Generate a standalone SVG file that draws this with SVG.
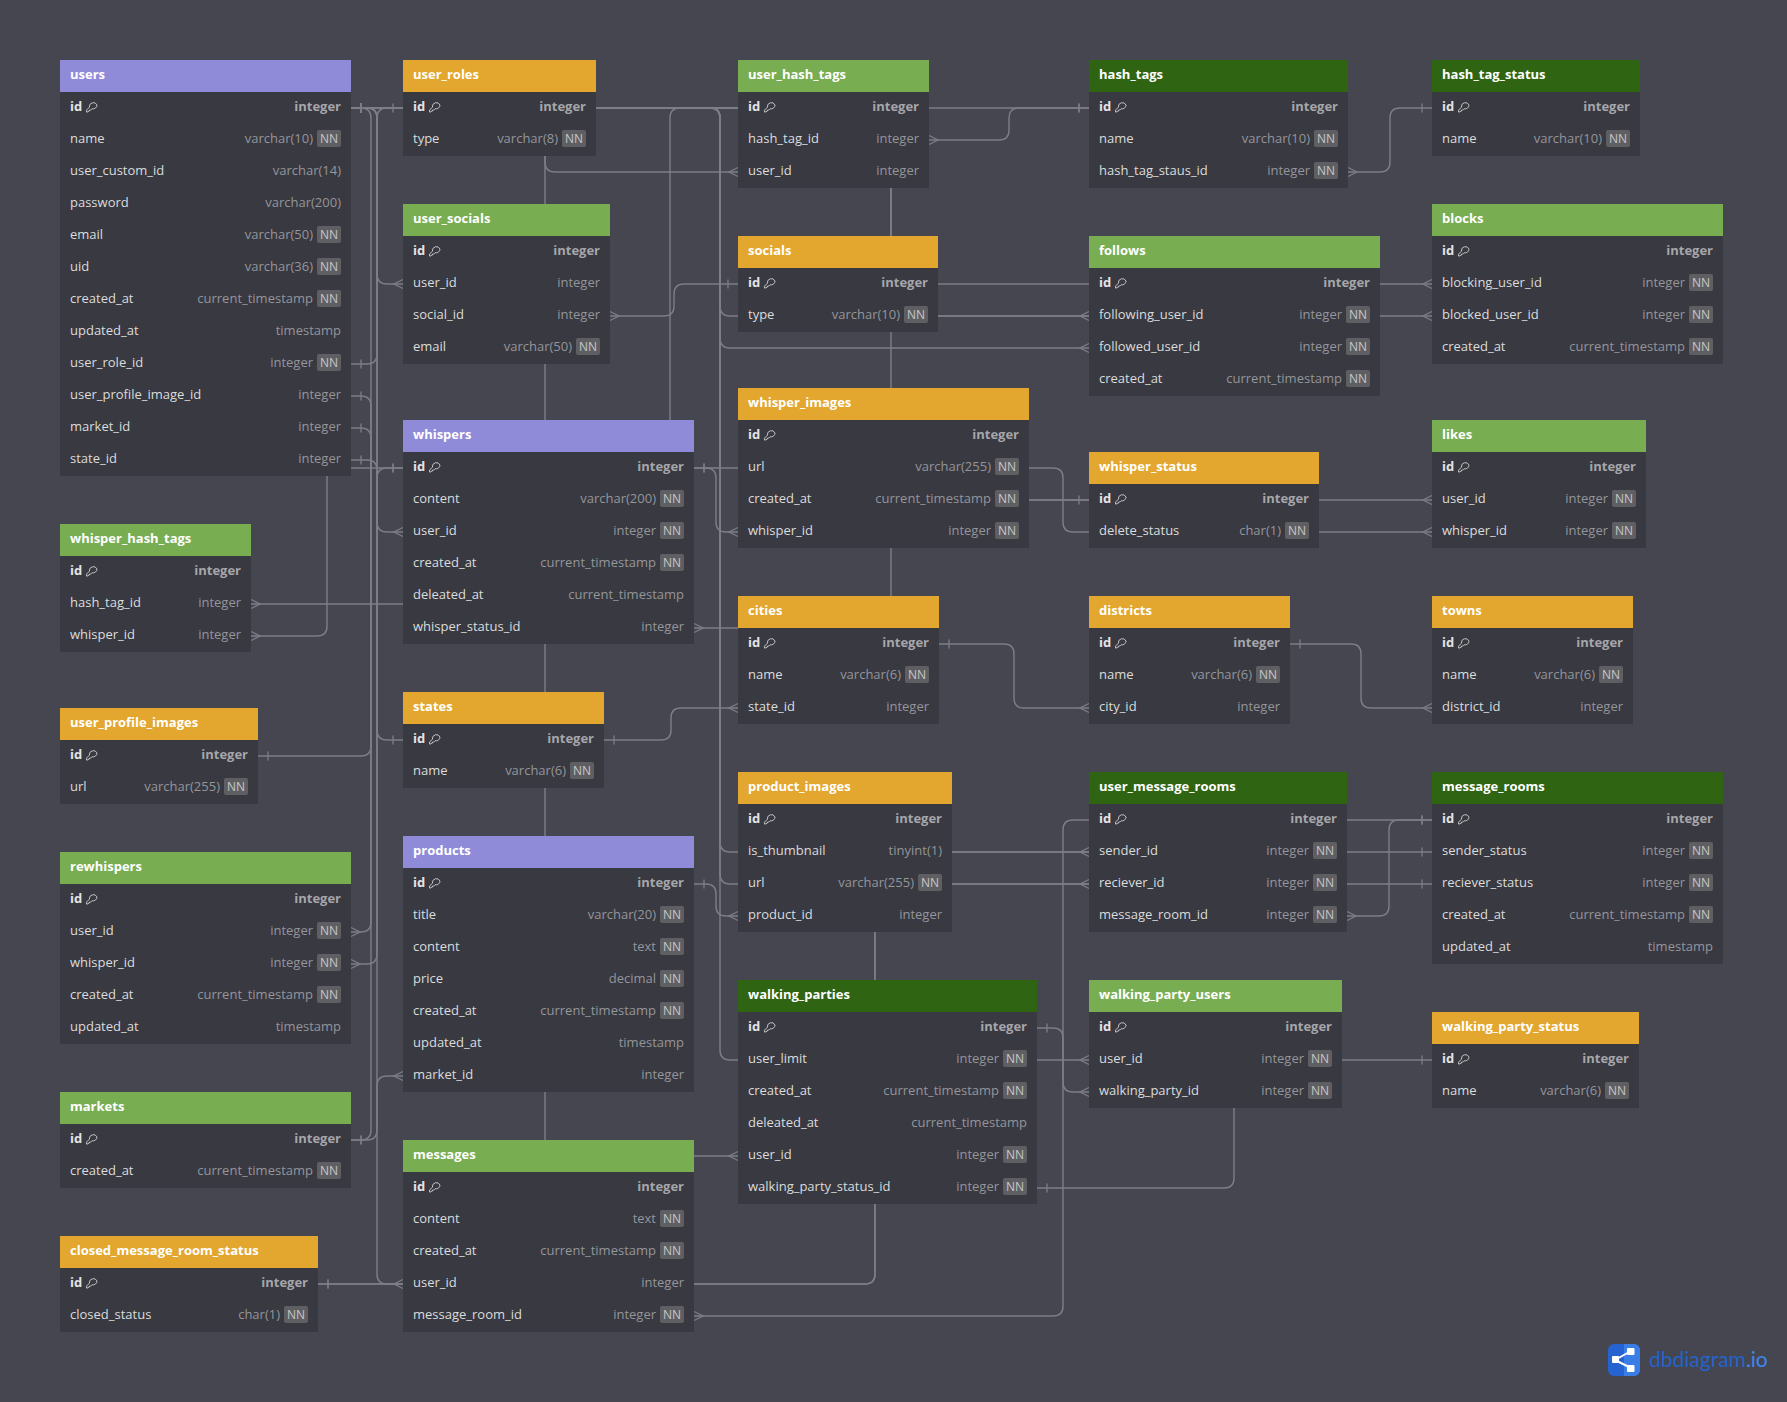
<svg xmlns="http://www.w3.org/2000/svg" width="1787" height="1402" viewBox="0 0 1787 1402">
<style>
text{font-family:"Open Sans","Noto Sans","Liberation Sans",sans-serif;font-size:13px}
.p{fill:#8f8bd8}.o{fill:#e3a72f}.g{fill:#78ad52}.d{fill:#2f6413}
.body{fill:#383941}
.h{fill:#fff;font-weight:700}
.n{fill:#dcdcdc}
.k{fill:#e4e4e4;font-weight:700}
.t{fill:#95959a;text-anchor:end}
.q{fill:#a6a6aa;font-weight:700;text-anchor:end}
.b{fill:#5f5f63}
.c{fill:#c6c6c6;font-size:12px;text-anchor:middle}
.key{fill:none;stroke:#d0d0d0;stroke-width:.9}
#connectors path{fill:none;stroke:#7d7e88;stroke-width:1.4}
.mk{fill:none;stroke:#7d7e88;stroke-width:1.3}
</style>
<defs>
<marker id="one" markerUnits="userSpaceOnUse" markerWidth="1" markerHeight="1" refX="0" refY="0" orient="auto-start-reverse" overflow="visible"><path class="mk" d="M-10 -4.500V4.500"/></marker>
<marker id="many" markerUnits="userSpaceOnUse" markerWidth="1" markerHeight="1" refX="0" refY="0" orient="auto-start-reverse" overflow="visible"><path class="mk" d="M0 -4.500L-9 0L0 4.500"/></marker>
<path id="key" d="M11 4a4 4 0 0 1-5 3.800L4.800 9H3.600V10H2.500L2 11H.5V9.200L3.400 6.200A4 4 0 0 1 11 4z"/>
</defs>
<rect width="1787" height="1402" fill="#45464f"/>
<g id="connectors">
<path marker-start="url(#one)" marker-end="url(#one)" d="M351 364H367Q377 364 377 354V118Q377 108 387 108H403"/>
<path marker-start="url(#one)" marker-end="url(#many)" d="M351 108H367Q377 108 377 118V274Q377 284 387 284H403"/>
<path marker-start="url(#one)" marker-end="url(#many)" d="M351 108H367Q377 108 377 118V522Q377 532 387 532H403"/>
<path marker-start="url(#one)" marker-end="url(#many)" d="M351 108H367Q377 108 377 118V1274Q377 1284 387 1284H403"/>
<path marker-start="url(#one)" marker-end="url(#many)" d="M351 108H361Q371 108 371 118V922Q371 932 361 932H351"/>
<path marker-start="url(#one)" marker-end="url(#many)" d="M351 108H535Q545 108 545 118V162Q545 172 555 172H738"/>
<path marker-start="url(#one)" marker-end="url(#many)" d="M351 108H535Q545 108 545 118V1146Q545 1156 555 1156H738"/>
<path marker-start="url(#one)" marker-end="url(#many)" d="M351 108H710Q720 108 720 118V306Q720 316 730 316H1089"/>
<path marker-start="url(#one)" marker-end="url(#many)" d="M351 108H710Q720 108 720 118V338Q720 348 730 348H1089"/>
<path marker-start="url(#one)" marker-end="url(#many)" d="M351 108H710Q720 108 720 118V842Q720 852 730 852H1089"/>
<path marker-start="url(#one)" marker-end="url(#many)" d="M351 108H710Q720 108 720 118V874Q720 884 730 884H1089"/>
<path marker-start="url(#one)" marker-end="url(#many)" d="M351 108H710Q720 108 720 118V1050Q720 1060 730 1060H1089"/>
<path marker-start="url(#one)" marker-end="url(#many)" d="M351 108H881Q891 108 891 118V274Q891 284 901 284H1432"/>
<path marker-start="url(#one)" marker-end="url(#many)" d="M351 108H881Q891 108 891 118V306Q891 316 901 316H1432"/>
<path marker-start="url(#one)" marker-end="url(#many)" d="M351 108H881Q891 108 891 118V490Q891 500 901 500H1432"/>
<path marker-start="url(#one)" marker-end="url(#one)" d="M351 460H367Q377 460 377 470V730Q377 740 387 740H403"/>
<path marker-start="url(#many)" marker-end="url(#one)" d="M351 964H367Q377 964 377 954V478Q377 468 387 468H403"/>
<path marker-start="url(#many)" marker-end="url(#one)" d="M251 636H317Q327 636 327 626V478Q327 468 337 468H403"/>
<path marker-start="url(#many)" marker-end="url(#one)" d="M251 604H660Q670 604 670 594V118Q670 108 680 108H1089"/>
<path marker-start="url(#many)" marker-end="url(#one)" d="M403 1076H387Q377 1076 377 1086V1130Q377 1140 367 1140H351"/>
<path marker-start="url(#one)" marker-end="url(#one)" d="M351 428H361Q371 428 371 438V1130Q371 1140 361 1140H351"/>
<path marker-start="url(#one)" marker-end="url(#one)" d="M351 396H361Q371 396 371 406V746Q371 756 361 756H258"/>
<path marker-start="url(#one)" marker-end="url(#one)" d="M318 1284H865Q875 1284 875 1274V862Q875 852 885 852H1432"/>
<path marker-start="url(#one)" marker-end="url(#one)" d="M318 1284H865Q875 1284 875 1274V894Q875 884 885 884H1432"/>
<path marker-start="url(#many)" marker-end="url(#one)" d="M694 628H881Q891 628 891 618V510Q891 500 901 500H1089"/>
<path marker-start="url(#one)" marker-end="url(#many)" d="M694 468H1053Q1063 468 1063 478V522Q1063 532 1073 532H1432"/>
<path marker-start="url(#one)" marker-end="url(#many)" d="M694 468H706Q716 468 716 478V522Q716 532 726 532H738"/>
<path marker-start="url(#many)" marker-end="url(#one)" d="M929 140H999Q1009 140 1009 130V118Q1009 108 1019 108H1089"/>
<path marker-start="url(#many)" marker-end="url(#one)" d="M1348 172H1380Q1390 172 1390 162V118Q1390 108 1400 108H1432"/>
<path marker-start="url(#many)" marker-end="url(#one)" d="M610 316H664Q674 316 674 306V294Q674 284 684 284H738"/>
<path marker-start="url(#one)" marker-end="url(#many)" d="M604 740H661Q671 740 671 730V718Q671 708 681 708H738"/>
<path marker-start="url(#one)" marker-end="url(#many)" d="M939 644H1004Q1014 644 1014 654V698Q1014 708 1024 708H1089"/>
<path marker-start="url(#one)" marker-end="url(#many)" d="M1290 644H1351Q1361 644 1361 654V698Q1361 708 1371 708H1432"/>
<path marker-start="url(#one)" marker-end="url(#many)" d="M694 884H706Q716 884 716 894V906Q716 916 726 916H738"/>
<path marker-start="url(#many)" marker-end="url(#one)" d="M694 1316H1053Q1063 1316 1063 1306V830Q1063 820 1073 820H1432"/>
<path marker-start="url(#many)" marker-end="url(#one)" d="M1347 916H1379Q1389 916 1389 906V830Q1389 820 1399 820H1432"/>
<path marker-start="url(#one)" marker-end="url(#many)" d="M1037 1028H1053Q1063 1028 1063 1038V1082Q1063 1092 1073 1092H1089"/>
<path marker-start="url(#one)" marker-end="url(#one)" d="M1037 1188H1224Q1234 1188 1234 1178V1070Q1234 1060 1244 1060H1432"/>
</g>
<g id="users" transform="translate(60,60)"><rect class="body" y="32" width="291" height="384"/><rect class="p" width="291" height="32"/><text class="h" x="10" y="19">users</text>
<text class="k" x="10" y="51">id</text><use href="#key" class="key" x="26" y="41"/><text class="q" x="281" y="51">integer</text>
<text class="n" x="10" y="83">name</text><text class="t" x="253" y="83">varchar(10)</text><rect class="b" x="257" y="70" width="24" height="17" rx="2"/><text class="c" x="269" y="82.500">NN</text>
<text class="n" x="10" y="115">user_custom_id</text><text class="t" x="281" y="115">varchar(14)</text>
<text class="n" x="10" y="147">password</text><text class="t" x="281" y="147">varchar(200)</text>
<text class="n" x="10" y="179">email</text><text class="t" x="253" y="179">varchar(50)</text><rect class="b" x="257" y="166" width="24" height="17" rx="2"/><text class="c" x="269" y="178.500">NN</text>
<text class="n" x="10" y="211">uid</text><text class="t" x="253" y="211">varchar(36)</text><rect class="b" x="257" y="198" width="24" height="17" rx="2"/><text class="c" x="269" y="210.500">NN</text>
<text class="n" x="10" y="243">created_at</text><text class="t" x="253" y="243">current_timestamp</text><rect class="b" x="257" y="230" width="24" height="17" rx="2"/><text class="c" x="269" y="242.500">NN</text>
<text class="n" x="10" y="275">updated_at</text><text class="t" x="281" y="275">timestamp</text>
<text class="n" x="10" y="307">user_role_id</text><text class="t" x="253" y="307">integer</text><rect class="b" x="257" y="294" width="24" height="17" rx="2"/><text class="c" x="269" y="306.500">NN</text>
<text class="n" x="10" y="339">user_profile_image_id</text><text class="t" x="281" y="339">integer</text>
<text class="n" x="10" y="371">market_id</text><text class="t" x="281" y="371">integer</text>
<text class="n" x="10" y="403">state_id</text><text class="t" x="281" y="403">integer</text></g>
<g id="user_roles" transform="translate(403,60)"><rect class="body" y="32" width="193" height="64"/><rect class="o" width="193" height="32"/><text class="h" x="10" y="19">user_roles</text>
<text class="k" x="10" y="51">id</text><use href="#key" class="key" x="26" y="41"/><text class="q" x="183" y="51">integer</text>
<text class="n" x="10" y="83">type</text><text class="t" x="155" y="83">varchar(8)</text><rect class="b" x="159" y="70" width="24" height="17" rx="2"/><text class="c" x="171" y="82.500">NN</text></g>
<g id="user_socials" transform="translate(403,204)"><rect class="body" y="32" width="207" height="128"/><rect class="g" width="207" height="32"/><text class="h" x="10" y="19">user_socials</text>
<text class="k" x="10" y="51">id</text><use href="#key" class="key" x="26" y="41"/><text class="q" x="197" y="51">integer</text>
<text class="n" x="10" y="83">user_id</text><text class="t" x="197" y="83">integer</text>
<text class="n" x="10" y="115">social_id</text><text class="t" x="197" y="115">integer</text>
<text class="n" x="10" y="147">email</text><text class="t" x="169" y="147">varchar(50)</text><rect class="b" x="173" y="134" width="24" height="17" rx="2"/><text class="c" x="185" y="146.500">NN</text></g>
<g id="user_hash_tags" transform="translate(738,60)"><rect class="body" y="32" width="191" height="96"/><rect class="g" width="191" height="32"/><text class="h" x="10" y="19">user_hash_tags</text>
<text class="k" x="10" y="51">id</text><use href="#key" class="key" x="26" y="41"/><text class="q" x="181" y="51">integer</text>
<text class="n" x="10" y="83">hash_tag_id</text><text class="t" x="181" y="83">integer</text>
<text class="n" x="10" y="115">user_id</text><text class="t" x="181" y="115">integer</text></g>
<g id="hash_tags" transform="translate(1089,60)"><rect class="body" y="32" width="259" height="96"/><rect class="d" width="259" height="32"/><text class="h" x="10" y="19">hash_tags</text>
<text class="k" x="10" y="51">id</text><use href="#key" class="key" x="26" y="41"/><text class="q" x="249" y="51">integer</text>
<text class="n" x="10" y="83">name</text><text class="t" x="221" y="83">varchar(10)</text><rect class="b" x="225" y="70" width="24" height="17" rx="2"/><text class="c" x="237" y="82.500">NN</text>
<text class="n" x="10" y="115">hash_tag_staus_id</text><text class="t" x="221" y="115">integer</text><rect class="b" x="225" y="102" width="24" height="17" rx="2"/><text class="c" x="237" y="114.500">NN</text></g>
<g id="hash_tag_status" transform="translate(1432,60)"><rect class="body" y="32" width="208" height="64"/><rect class="d" width="208" height="32"/><text class="h" x="10" y="19">hash_tag_status</text>
<text class="k" x="10" y="51">id</text><use href="#key" class="key" x="26" y="41"/><text class="q" x="198" y="51">integer</text>
<text class="n" x="10" y="83">name</text><text class="t" x="170" y="83">varchar(10)</text><rect class="b" x="174" y="70" width="24" height="17" rx="2"/><text class="c" x="186" y="82.500">NN</text></g>
<g id="socials" transform="translate(738,236)"><rect class="body" y="32" width="200" height="64"/><rect class="o" width="200" height="32"/><text class="h" x="10" y="19">socials</text>
<text class="k" x="10" y="51">id</text><use href="#key" class="key" x="26" y="41"/><text class="q" x="190" y="51">integer</text>
<text class="n" x="10" y="83">type</text><text class="t" x="162" y="83">varchar(10)</text><rect class="b" x="166" y="70" width="24" height="17" rx="2"/><text class="c" x="178" y="82.500">NN</text></g>
<g id="follows" transform="translate(1089,236)"><rect class="body" y="32" width="291" height="128"/><rect class="g" width="291" height="32"/><text class="h" x="10" y="19">follows</text>
<text class="k" x="10" y="51">id</text><use href="#key" class="key" x="26" y="41"/><text class="q" x="281" y="51">integer</text>
<text class="n" x="10" y="83">following_user_id</text><text class="t" x="253" y="83">integer</text><rect class="b" x="257" y="70" width="24" height="17" rx="2"/><text class="c" x="269" y="82.500">NN</text>
<text class="n" x="10" y="115">followed_user_id</text><text class="t" x="253" y="115">integer</text><rect class="b" x="257" y="102" width="24" height="17" rx="2"/><text class="c" x="269" y="114.500">NN</text>
<text class="n" x="10" y="147">created_at</text><text class="t" x="253" y="147">current_timestamp</text><rect class="b" x="257" y="134" width="24" height="17" rx="2"/><text class="c" x="269" y="146.500">NN</text></g>
<g id="blocks" transform="translate(1432,204)"><rect class="body" y="32" width="291" height="128"/><rect class="g" width="291" height="32"/><text class="h" x="10" y="19">blocks</text>
<text class="k" x="10" y="51">id</text><use href="#key" class="key" x="26" y="41"/><text class="q" x="281" y="51">integer</text>
<text class="n" x="10" y="83">blocking_user_id</text><text class="t" x="253" y="83">integer</text><rect class="b" x="257" y="70" width="24" height="17" rx="2"/><text class="c" x="269" y="82.500">NN</text>
<text class="n" x="10" y="115">blocked_user_id</text><text class="t" x="253" y="115">integer</text><rect class="b" x="257" y="102" width="24" height="17" rx="2"/><text class="c" x="269" y="114.500">NN</text>
<text class="n" x="10" y="147">created_at</text><text class="t" x="253" y="147">current_timestamp</text><rect class="b" x="257" y="134" width="24" height="17" rx="2"/><text class="c" x="269" y="146.500">NN</text></g>
<g id="whispers" transform="translate(403,420)"><rect class="body" y="32" width="291" height="192"/><rect class="p" width="291" height="32"/><text class="h" x="10" y="19">whispers</text>
<text class="k" x="10" y="51">id</text><use href="#key" class="key" x="26" y="41"/><text class="q" x="281" y="51">integer</text>
<text class="n" x="10" y="83">content</text><text class="t" x="253" y="83">varchar(200)</text><rect class="b" x="257" y="70" width="24" height="17" rx="2"/><text class="c" x="269" y="82.500">NN</text>
<text class="n" x="10" y="115">user_id</text><text class="t" x="253" y="115">integer</text><rect class="b" x="257" y="102" width="24" height="17" rx="2"/><text class="c" x="269" y="114.500">NN</text>
<text class="n" x="10" y="147">created_at</text><text class="t" x="253" y="147">current_timestamp</text><rect class="b" x="257" y="134" width="24" height="17" rx="2"/><text class="c" x="269" y="146.500">NN</text>
<text class="n" x="10" y="179">deleated_at</text><text class="t" x="281" y="179">current_timestamp</text>
<text class="n" x="10" y="211">whisper_status_id</text><text class="t" x="281" y="211">integer</text></g>
<g id="whisper_images" transform="translate(738,388)"><rect class="body" y="32" width="291" height="128"/><rect class="o" width="291" height="32"/><text class="h" x="10" y="19">whisper_images</text>
<text class="k" x="10" y="51">id</text><use href="#key" class="key" x="26" y="41"/><text class="q" x="281" y="51">integer</text>
<text class="n" x="10" y="83">url</text><text class="t" x="253" y="83">varchar(255)</text><rect class="b" x="257" y="70" width="24" height="17" rx="2"/><text class="c" x="269" y="82.500">NN</text>
<text class="n" x="10" y="115">created_at</text><text class="t" x="253" y="115">current_timestamp</text><rect class="b" x="257" y="102" width="24" height="17" rx="2"/><text class="c" x="269" y="114.500">NN</text>
<text class="n" x="10" y="147">whisper_id</text><text class="t" x="253" y="147">integer</text><rect class="b" x="257" y="134" width="24" height="17" rx="2"/><text class="c" x="269" y="146.500">NN</text></g>
<g id="whisper_status" transform="translate(1089,452)"><rect class="body" y="32" width="230" height="64"/><rect class="o" width="230" height="32"/><text class="h" x="10" y="19">whisper_status</text>
<text class="k" x="10" y="51">id</text><use href="#key" class="key" x="26" y="41"/><text class="q" x="220" y="51">integer</text>
<text class="n" x="10" y="83">delete_status</text><text class="t" x="192" y="83">char(1)</text><rect class="b" x="196" y="70" width="24" height="17" rx="2"/><text class="c" x="208" y="82.500">NN</text></g>
<g id="likes" transform="translate(1432,420)"><rect class="body" y="32" width="214" height="96"/><rect class="g" width="214" height="32"/><text class="h" x="10" y="19">likes</text>
<text class="k" x="10" y="51">id</text><use href="#key" class="key" x="26" y="41"/><text class="q" x="204" y="51">integer</text>
<text class="n" x="10" y="83">user_id</text><text class="t" x="176" y="83">integer</text><rect class="b" x="180" y="70" width="24" height="17" rx="2"/><text class="c" x="192" y="82.500">NN</text>
<text class="n" x="10" y="115">whisper_id</text><text class="t" x="176" y="115">integer</text><rect class="b" x="180" y="102" width="24" height="17" rx="2"/><text class="c" x="192" y="114.500">NN</text></g>
<g id="whisper_hash_tags" transform="translate(60,524)"><rect class="body" y="32" width="191" height="96"/><rect class="g" width="191" height="32"/><text class="h" x="10" y="19">whisper_hash_tags</text>
<text class="k" x="10" y="51">id</text><use href="#key" class="key" x="26" y="41"/><text class="q" x="181" y="51">integer</text>
<text class="n" x="10" y="83">hash_tag_id</text><text class="t" x="181" y="83">integer</text>
<text class="n" x="10" y="115">whisper_id</text><text class="t" x="181" y="115">integer</text></g>
<g id="cities" transform="translate(738,596)"><rect class="body" y="32" width="201" height="96"/><rect class="o" width="201" height="32"/><text class="h" x="10" y="19">cities</text>
<text class="k" x="10" y="51">id</text><use href="#key" class="key" x="26" y="41"/><text class="q" x="191" y="51">integer</text>
<text class="n" x="10" y="83">name</text><text class="t" x="163" y="83">varchar(6)</text><rect class="b" x="167" y="70" width="24" height="17" rx="2"/><text class="c" x="179" y="82.500">NN</text>
<text class="n" x="10" y="115">state_id</text><text class="t" x="191" y="115">integer</text></g>
<g id="districts" transform="translate(1089,596)"><rect class="body" y="32" width="201" height="96"/><rect class="o" width="201" height="32"/><text class="h" x="10" y="19">districts</text>
<text class="k" x="10" y="51">id</text><use href="#key" class="key" x="26" y="41"/><text class="q" x="191" y="51">integer</text>
<text class="n" x="10" y="83">name</text><text class="t" x="163" y="83">varchar(6)</text><rect class="b" x="167" y="70" width="24" height="17" rx="2"/><text class="c" x="179" y="82.500">NN</text>
<text class="n" x="10" y="115">city_id</text><text class="t" x="191" y="115">integer</text></g>
<g id="towns" transform="translate(1432,596)"><rect class="body" y="32" width="201" height="96"/><rect class="o" width="201" height="32"/><text class="h" x="10" y="19">towns</text>
<text class="k" x="10" y="51">id</text><use href="#key" class="key" x="26" y="41"/><text class="q" x="191" y="51">integer</text>
<text class="n" x="10" y="83">name</text><text class="t" x="163" y="83">varchar(6)</text><rect class="b" x="167" y="70" width="24" height="17" rx="2"/><text class="c" x="179" y="82.500">NN</text>
<text class="n" x="10" y="115">district_id</text><text class="t" x="191" y="115">integer</text></g>
<g id="states" transform="translate(403,692)"><rect class="body" y="32" width="201" height="64"/><rect class="o" width="201" height="32"/><text class="h" x="10" y="19">states</text>
<text class="k" x="10" y="51">id</text><use href="#key" class="key" x="26" y="41"/><text class="q" x="191" y="51">integer</text>
<text class="n" x="10" y="83">name</text><text class="t" x="163" y="83">varchar(6)</text><rect class="b" x="167" y="70" width="24" height="17" rx="2"/><text class="c" x="179" y="82.500">NN</text></g>
<g id="user_profile_images" transform="translate(60,708)"><rect class="body" y="32" width="198" height="64"/><rect class="o" width="198" height="32"/><text class="h" x="10" y="19">user_profile_images</text>
<text class="k" x="10" y="51">id</text><use href="#key" class="key" x="26" y="41"/><text class="q" x="188" y="51">integer</text>
<text class="n" x="10" y="83">url</text><text class="t" x="160" y="83">varchar(255)</text><rect class="b" x="164" y="70" width="24" height="17" rx="2"/><text class="c" x="176" y="82.500">NN</text></g>
<g id="product_images" transform="translate(738,772)"><rect class="body" y="32" width="214" height="128"/><rect class="o" width="214" height="32"/><text class="h" x="10" y="19">product_images</text>
<text class="k" x="10" y="51">id</text><use href="#key" class="key" x="26" y="41"/><text class="q" x="204" y="51">integer</text>
<text class="n" x="10" y="83">is_thumbnail</text><text class="t" x="204" y="83">tinyint(1)</text>
<text class="n" x="10" y="115">url</text><text class="t" x="176" y="115">varchar(255)</text><rect class="b" x="180" y="102" width="24" height="17" rx="2"/><text class="c" x="192" y="114.500">NN</text>
<text class="n" x="10" y="147">product_id</text><text class="t" x="204" y="147">integer</text></g>
<g id="user_message_rooms" transform="translate(1089,772)"><rect class="body" y="32" width="258" height="128"/><rect class="d" width="258" height="32"/><text class="h" x="10" y="19">user_message_rooms</text>
<text class="k" x="10" y="51">id</text><use href="#key" class="key" x="26" y="41"/><text class="q" x="248" y="51">integer</text>
<text class="n" x="10" y="83">sender_id</text><text class="t" x="220" y="83">integer</text><rect class="b" x="224" y="70" width="24" height="17" rx="2"/><text class="c" x="236" y="82.500">NN</text>
<text class="n" x="10" y="115">reciever_id</text><text class="t" x="220" y="115">integer</text><rect class="b" x="224" y="102" width="24" height="17" rx="2"/><text class="c" x="236" y="114.500">NN</text>
<text class="n" x="10" y="147">message_room_id</text><text class="t" x="220" y="147">integer</text><rect class="b" x="224" y="134" width="24" height="17" rx="2"/><text class="c" x="236" y="146.500">NN</text></g>
<g id="message_rooms" transform="translate(1432,772)"><rect class="body" y="32" width="291" height="160"/><rect class="d" width="291" height="32"/><text class="h" x="10" y="19">message_rooms</text>
<text class="k" x="10" y="51">id</text><use href="#key" class="key" x="26" y="41"/><text class="q" x="281" y="51">integer</text>
<text class="n" x="10" y="83">sender_status</text><text class="t" x="253" y="83">integer</text><rect class="b" x="257" y="70" width="24" height="17" rx="2"/><text class="c" x="269" y="82.500">NN</text>
<text class="n" x="10" y="115">reciever_status</text><text class="t" x="253" y="115">integer</text><rect class="b" x="257" y="102" width="24" height="17" rx="2"/><text class="c" x="269" y="114.500">NN</text>
<text class="n" x="10" y="147">created_at</text><text class="t" x="253" y="147">current_timestamp</text><rect class="b" x="257" y="134" width="24" height="17" rx="2"/><text class="c" x="269" y="146.500">NN</text>
<text class="n" x="10" y="179">updated_at</text><text class="t" x="281" y="179">timestamp</text></g>
<g id="products" transform="translate(403,836)"><rect class="body" y="32" width="291" height="224"/><rect class="p" width="291" height="32"/><text class="h" x="10" y="19">products</text>
<text class="k" x="10" y="51">id</text><use href="#key" class="key" x="26" y="41"/><text class="q" x="281" y="51">integer</text>
<text class="n" x="10" y="83">title</text><text class="t" x="253" y="83">varchar(20)</text><rect class="b" x="257" y="70" width="24" height="17" rx="2"/><text class="c" x="269" y="82.500">NN</text>
<text class="n" x="10" y="115">content</text><text class="t" x="253" y="115">text</text><rect class="b" x="257" y="102" width="24" height="17" rx="2"/><text class="c" x="269" y="114.500">NN</text>
<text class="n" x="10" y="147">price</text><text class="t" x="253" y="147">decimal</text><rect class="b" x="257" y="134" width="24" height="17" rx="2"/><text class="c" x="269" y="146.500">NN</text>
<text class="n" x="10" y="179">created_at</text><text class="t" x="253" y="179">current_timestamp</text><rect class="b" x="257" y="166" width="24" height="17" rx="2"/><text class="c" x="269" y="178.500">NN</text>
<text class="n" x="10" y="211">updated_at</text><text class="t" x="281" y="211">timestamp</text>
<text class="n" x="10" y="243">market_id</text><text class="t" x="281" y="243">integer</text></g>
<g id="rewhispers" transform="translate(60,852)"><rect class="body" y="32" width="291" height="160"/><rect class="g" width="291" height="32"/><text class="h" x="10" y="19">rewhispers</text>
<text class="k" x="10" y="51">id</text><use href="#key" class="key" x="26" y="41"/><text class="q" x="281" y="51">integer</text>
<text class="n" x="10" y="83">user_id</text><text class="t" x="253" y="83">integer</text><rect class="b" x="257" y="70" width="24" height="17" rx="2"/><text class="c" x="269" y="82.500">NN</text>
<text class="n" x="10" y="115">whisper_id</text><text class="t" x="253" y="115">integer</text><rect class="b" x="257" y="102" width="24" height="17" rx="2"/><text class="c" x="269" y="114.500">NN</text>
<text class="n" x="10" y="147">created_at</text><text class="t" x="253" y="147">current_timestamp</text><rect class="b" x="257" y="134" width="24" height="17" rx="2"/><text class="c" x="269" y="146.500">NN</text>
<text class="n" x="10" y="179">updated_at</text><text class="t" x="281" y="179">timestamp</text></g>
<g id="walking_parties" transform="translate(738,980)"><rect class="body" y="32" width="299" height="192"/><rect class="d" width="299" height="32"/><text class="h" x="10" y="19">walking_parties</text>
<text class="k" x="10" y="51">id</text><use href="#key" class="key" x="26" y="41"/><text class="q" x="289" y="51">integer</text>
<text class="n" x="10" y="83">user_limit</text><text class="t" x="261" y="83">integer</text><rect class="b" x="265" y="70" width="24" height="17" rx="2"/><text class="c" x="277" y="82.500">NN</text>
<text class="n" x="10" y="115">created_at</text><text class="t" x="261" y="115">current_timestamp</text><rect class="b" x="265" y="102" width="24" height="17" rx="2"/><text class="c" x="277" y="114.500">NN</text>
<text class="n" x="10" y="147">deleated_at</text><text class="t" x="289" y="147">current_timestamp</text>
<text class="n" x="10" y="179">user_id</text><text class="t" x="261" y="179">integer</text><rect class="b" x="265" y="166" width="24" height="17" rx="2"/><text class="c" x="277" y="178.500">NN</text>
<text class="n" x="10" y="211">walking_party_status_id</text><text class="t" x="261" y="211">integer</text><rect class="b" x="265" y="198" width="24" height="17" rx="2"/><text class="c" x="277" y="210.500">NN</text></g>
<g id="walking_party_users" transform="translate(1089,980)"><rect class="body" y="32" width="253" height="96"/><rect class="g" width="253" height="32"/><text class="h" x="10" y="19">walking_party_users</text>
<text class="k" x="10" y="51">id</text><use href="#key" class="key" x="26" y="41"/><text class="q" x="243" y="51">integer</text>
<text class="n" x="10" y="83">user_id</text><text class="t" x="215" y="83">integer</text><rect class="b" x="219" y="70" width="24" height="17" rx="2"/><text class="c" x="231" y="82.500">NN</text>
<text class="n" x="10" y="115">walking_party_id</text><text class="t" x="215" y="115">integer</text><rect class="b" x="219" y="102" width="24" height="17" rx="2"/><text class="c" x="231" y="114.500">NN</text></g>
<g id="walking_party_status" transform="translate(1432,1012)"><rect class="body" y="32" width="207" height="64"/><rect class="o" width="207" height="32"/><text class="h" x="10" y="19">walking_party_status</text>
<text class="k" x="10" y="51">id</text><use href="#key" class="key" x="26" y="41"/><text class="q" x="197" y="51">integer</text>
<text class="n" x="10" y="83">name</text><text class="t" x="169" y="83">varchar(6)</text><rect class="b" x="173" y="70" width="24" height="17" rx="2"/><text class="c" x="185" y="82.500">NN</text></g>
<g id="markets" transform="translate(60,1092)"><rect class="body" y="32" width="291" height="64"/><rect class="g" width="291" height="32"/><text class="h" x="10" y="19">markets</text>
<text class="k" x="10" y="51">id</text><use href="#key" class="key" x="26" y="41"/><text class="q" x="281" y="51">integer</text>
<text class="n" x="10" y="83">created_at</text><text class="t" x="253" y="83">current_timestamp</text><rect class="b" x="257" y="70" width="24" height="17" rx="2"/><text class="c" x="269" y="82.500">NN</text></g>
<g id="messages" transform="translate(403,1140)"><rect class="body" y="32" width="291" height="160"/><rect class="g" width="291" height="32"/><text class="h" x="10" y="19">messages</text>
<text class="k" x="10" y="51">id</text><use href="#key" class="key" x="26" y="41"/><text class="q" x="281" y="51">integer</text>
<text class="n" x="10" y="83">content</text><text class="t" x="253" y="83">text</text><rect class="b" x="257" y="70" width="24" height="17" rx="2"/><text class="c" x="269" y="82.500">NN</text>
<text class="n" x="10" y="115">created_at</text><text class="t" x="253" y="115">current_timestamp</text><rect class="b" x="257" y="102" width="24" height="17" rx="2"/><text class="c" x="269" y="114.500">NN</text>
<text class="n" x="10" y="147">user_id</text><text class="t" x="281" y="147">integer</text>
<text class="n" x="10" y="179">message_room_id</text><text class="t" x="253" y="179">integer</text><rect class="b" x="257" y="166" width="24" height="17" rx="2"/><text class="c" x="269" y="178.500">NN</text></g>
<g id="closed_message_room_status" transform="translate(60,1236)"><rect class="body" y="32" width="258" height="64"/><rect class="o" width="258" height="32"/><text class="h" x="10" y="19">closed_message_room_status</text>
<text class="k" x="10" y="51">id</text><use href="#key" class="key" x="26" y="41"/><text class="q" x="248" y="51">integer</text>
<text class="n" x="10" y="83">closed_status</text><text class="t" x="220" y="83">char(1)</text><rect class="b" x="224" y="70" width="24" height="17" rx="2"/><text class="c" x="236" y="82.500">NN</text></g>
<g id="logo">
<rect x="1608" y="1344" width="32" height="32" rx="6" fill="#2563d0"/>
<path d="M1624 1344h10a6 6 0 0 1 6 6v20a6 6 0 0 1-6 6h-10z" fill="#3b7de6"/>
<path d="M1615 1360L1631 1351M1615 1360L1631 1368" stroke="#fff" stroke-width="2" fill="none"/>
<rect x="1612" y="1356" width="7" height="7" rx="1" fill="#fff"/>
<rect x="1627" y="1348" width="7.500" height="7" rx="1" fill="#fff"/>
<rect x="1627" y="1365" width="7.500" height="7" rx="1" fill="#fff"/>
<text x="1649" y="1367" style="font-family:Lato,'Open Sans',sans-serif;font-size:21px" fill="#2463cc">dbdiagram<tspan fill="#3f86f0">.io</tspan></text>
</g>
</svg>
